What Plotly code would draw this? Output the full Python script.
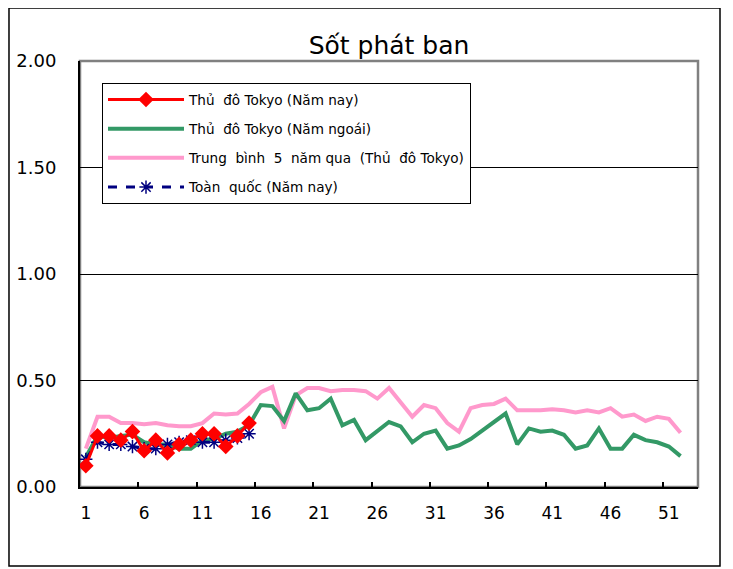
import plotly.graph_objects as go

weeks_all = list(range(1, 53))
weeks_now = list(range(1, 16))
tick_labels = [str(w) for w in range(1, 53, 5)]

tokyo_now = [0.10, 0.24, 0.24, 0.22, 0.26, 0.17, 0.22, 0.16, 0.20, 0.22,
             0.25, 0.25, 0.19, 0.24, 0.30]
national_now = [0.13, 0.21, 0.20, 0.20, 0.19, 0.18, 0.18, 0.20, 0.21, 0.22,
                0.21, 0.21, 0.22, 0.23, 0.25]
tokyo_last = [0.14, 0.24, 0.23, 0.24, 0.245, 0.21, 0.20, 0.20, 0.18, 0.18,
              0.22, 0.225, 0.25, 0.26, 0.29, 0.385, 0.38, 0.31, 0.44, 0.36,
              0.37, 0.415, 0.29, 0.315, 0.22, 0.26, 0.305, 0.285, 0.21, 0.25,
              0.265, 0.18, 0.195, 0.225, 0.265, 0.305, 0.345, 0.20, 0.275, 0.26,
              0.265, 0.245, 0.18, 0.195, 0.275, 0.18, 0.18, 0.245, 0.22, 0.21,
              0.19, 0.145]
avg5 = [0.18, 0.33, 0.33, 0.30, 0.30, 0.295, 0.30, 0.29, 0.285, 0.285,
        0.30, 0.345, 0.34, 0.345, 0.39, 0.445, 0.47, 0.275, 0.43, 0.465,
        0.465, 0.45, 0.455, 0.455, 0.45, 0.415, 0.465, 0.40, 0.33, 0.385,
        0.37, 0.30, 0.26, 0.37, 0.385, 0.39, 0.415, 0.36, 0.36, 0.36,
        0.365, 0.36, 0.35, 0.36, 0.35, 0.37, 0.33, 0.34, 0.31, 0.33,
        0.32, 0.255]

names = ["Thủ  đô Tokyo (Năm nay)", "Thủ  đô Tokyo (Năm ngoái)",
         "Trung  bình  5  năm qua  (Thủ  đô Tokyo)", "Toàn  quốc (Năm nay)"]

FONT = "DejaVu Sans"

fig = go.Figure()
fig.add_trace(go.Scatter(x=weeks_all, y=avg5, name=names[2], mode="lines",
                         line=dict(color="#FF99CC", width=4), legendrank=3,
                         legendgroup="c"))
fig.add_trace(go.Scatter(x=weeks_all, y=tokyo_last, name=names[1], mode="lines",
                         line=dict(color="#339966", width=4), legendrank=2,
                         legendgroup="b"))
fig.add_trace(go.Scatter(x=weeks_now, y=national_now, name=names[3],
                         mode="lines+markers",
                         line=dict(color="#000080", width=3, dash="dash"),
                         marker=dict(symbol="asterisk-open", size=11,
                                     line=dict(color="#000080", width=1.5)),
                         legendrank=4, legendgroup="d"))
fig.add_trace(go.Scatter(x=weeks_now, y=tokyo_now, name=names[0],
                         mode="lines+markers",
                         line=dict(color="#FF0000", width=3),
                         marker=dict(symbol="diamond", size=12, color="#FF0000"),
                         legendrank=1, legendgroup="a"))

fig.update_layout(
    width=725, height=561,
    margin=dict(l=72, r=35, t=53, b=82, autoexpand=False),
    paper_bgcolor="white", plot_bgcolor="white",
    font=dict(family=FONT, color="black"),
    title=dict(text="Sốt phát ban", x=0.5, xref="paper", y=0.934,
               yanchor="middle", font=dict(size=25, family=FONT, color="black")),
    showlegend=True,
    legend=dict(x=0.0356, y=0.948, xanchor="left", yanchor="top",
                bgcolor="white", bordercolor="black", borderwidth=1,
                font=dict(size=13.6, family=FONT, color="black"),
                itemwidth=76, traceorder="grouped", tracegroupgap=8.5),
    xaxis=dict(range=[0.5, 53.5], tickmode="array",
               tickvals=list(range(1, 53, 5)), ticktext=tick_labels,
               ticks="", showgrid=False, zeroline=False, automargin=False,
               showline=True, linecolor="black", linewidth=2,
               tickfont=dict(size=17, family=FONT, color="black"),
               ticklabelstandoff=10,
               minor=dict(tickmode="array",
                          tickvals=[x + 0.5 for x in range(5, 53, 5)],
                          ticks="inside", ticklen=5, tickwidth=1.5,
                          tickcolor="black", showgrid=False)),
    yaxis=dict(range=[0, 2], tickmode="array",
               tickvals=[0, 0.5, 1.0, 1.5, 2.0],
               ticktext=["0.00", "0.50", "1.00", "1.50", "2.00"],
               ticks="", showgrid=True, gridcolor="black", gridwidth=1,
               zeroline=False, showline=True, linecolor="black", linewidth=2,
               automargin=False,
               tickfont=dict(size=18, family=FONT, color="black"),
               ticklabelstandoff=18),
    shapes=[
        dict(type="rect", xref="paper", yref="paper", x0=0, x1=1, y0=0, y1=1,
             line=dict(color="#808080", width=2.5), layer="below"),
        dict(type="rect", xref="paper", yref="paper",
             x0=-0.1149, x1=1.0356, y0=-0.1854, y1=1.1244,
             line=dict(color="black", width=1.5)),
    ],
)

fig.write_html("out.html")
